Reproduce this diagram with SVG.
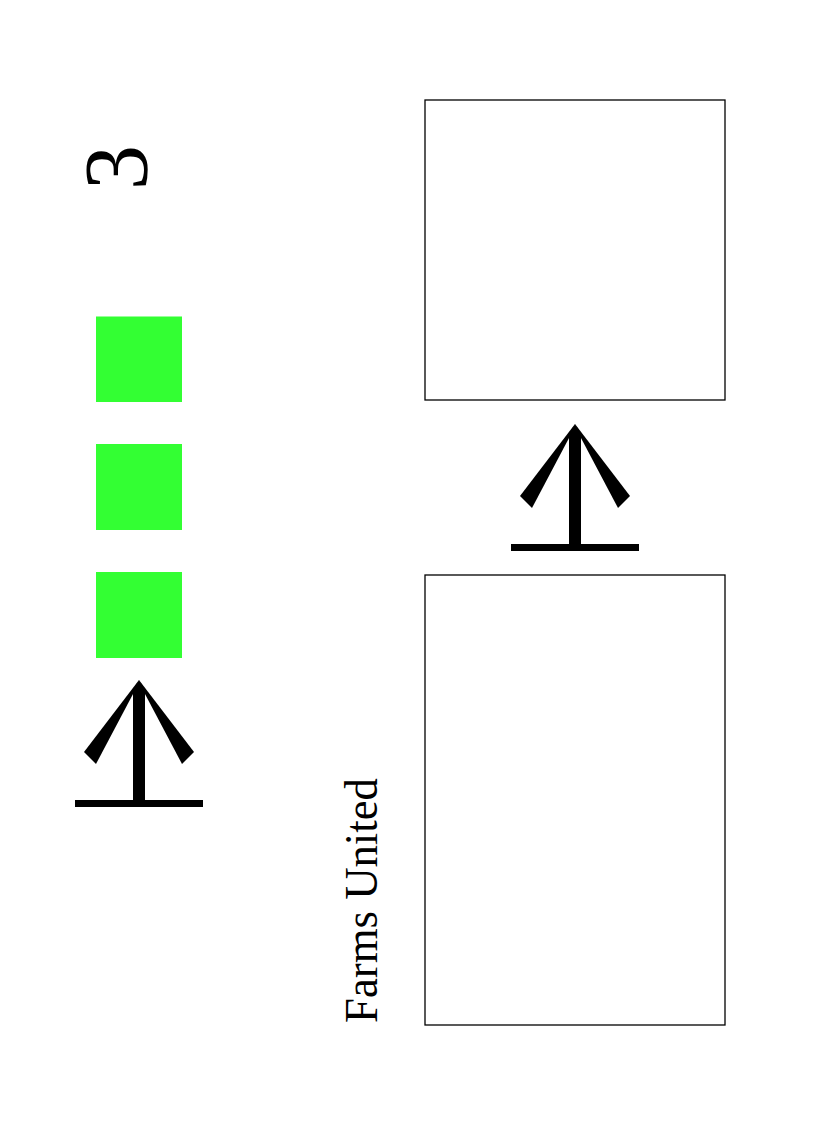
<svg xmlns="http://www.w3.org/2000/svg" xmlns:xlink="http://www.w3.org/1999/xlink" width="825" height="1125" viewBox="0 0 825 1125">
<style>
.box{fill:#ffffff;stroke:#000000;stroke-width:1.3}
.sq{fill:#33ff33}
.txt{fill:#000000}
.ar{fill:#000000}
</style>
<defs>
<g id="upArrow">
<polygon class="ar" points="0,0 -55,72 -43,84 -6,14"/>
<polygon class="ar" points="0,0 55,72 43,84 6,14"/>
<polygon class="ar" points="0,0 6,10 6,121 -6,121 -6,10"/>
<rect class="ar" x="-64" y="120" width="128" height="7"/>
</g>
</defs>
<rect width="825" height="1125" fill="#ffffff"/>
<g id="label-3">
<text class="txt" font-family="'Liberation Serif', 'Times New Roman', Times, serif" font-size="90" text-anchor="middle" transform="translate(147,167.5) rotate(-90)">3</text>
</g>
<g id="green-squares">
<rect class="sq" x="96" y="316.5" width="86" height="85.5"/>
<rect class="sq" x="96" y="444" width="86" height="86"/>
<rect class="sq" x="96" y="572" width="86" height="86"/>
</g>
<g id="arrow-left">
<use xlink:href="#upArrow" href="#upArrow" x="139" y="680"/>
</g>
<g id="box-top">
<rect class="box" x="425" y="100" width="300" height="300"/>
</g>
<g id="arrow-right">
<use xlink:href="#upArrow" href="#upArrow" x="575" y="424"/>
</g>
<g id="box-bottom">
<rect class="box" x="425" y="575" width="300" height="450"/>
</g>
<g id="label-farms">
<text class="txt" font-family="'Liberation Serif', 'Times New Roman', Times, serif" font-size="46" textLength="245" lengthAdjust="spacingAndGlyphs" transform="translate(377,1023) rotate(-90)">Farms United</text>
</g>
</svg>
